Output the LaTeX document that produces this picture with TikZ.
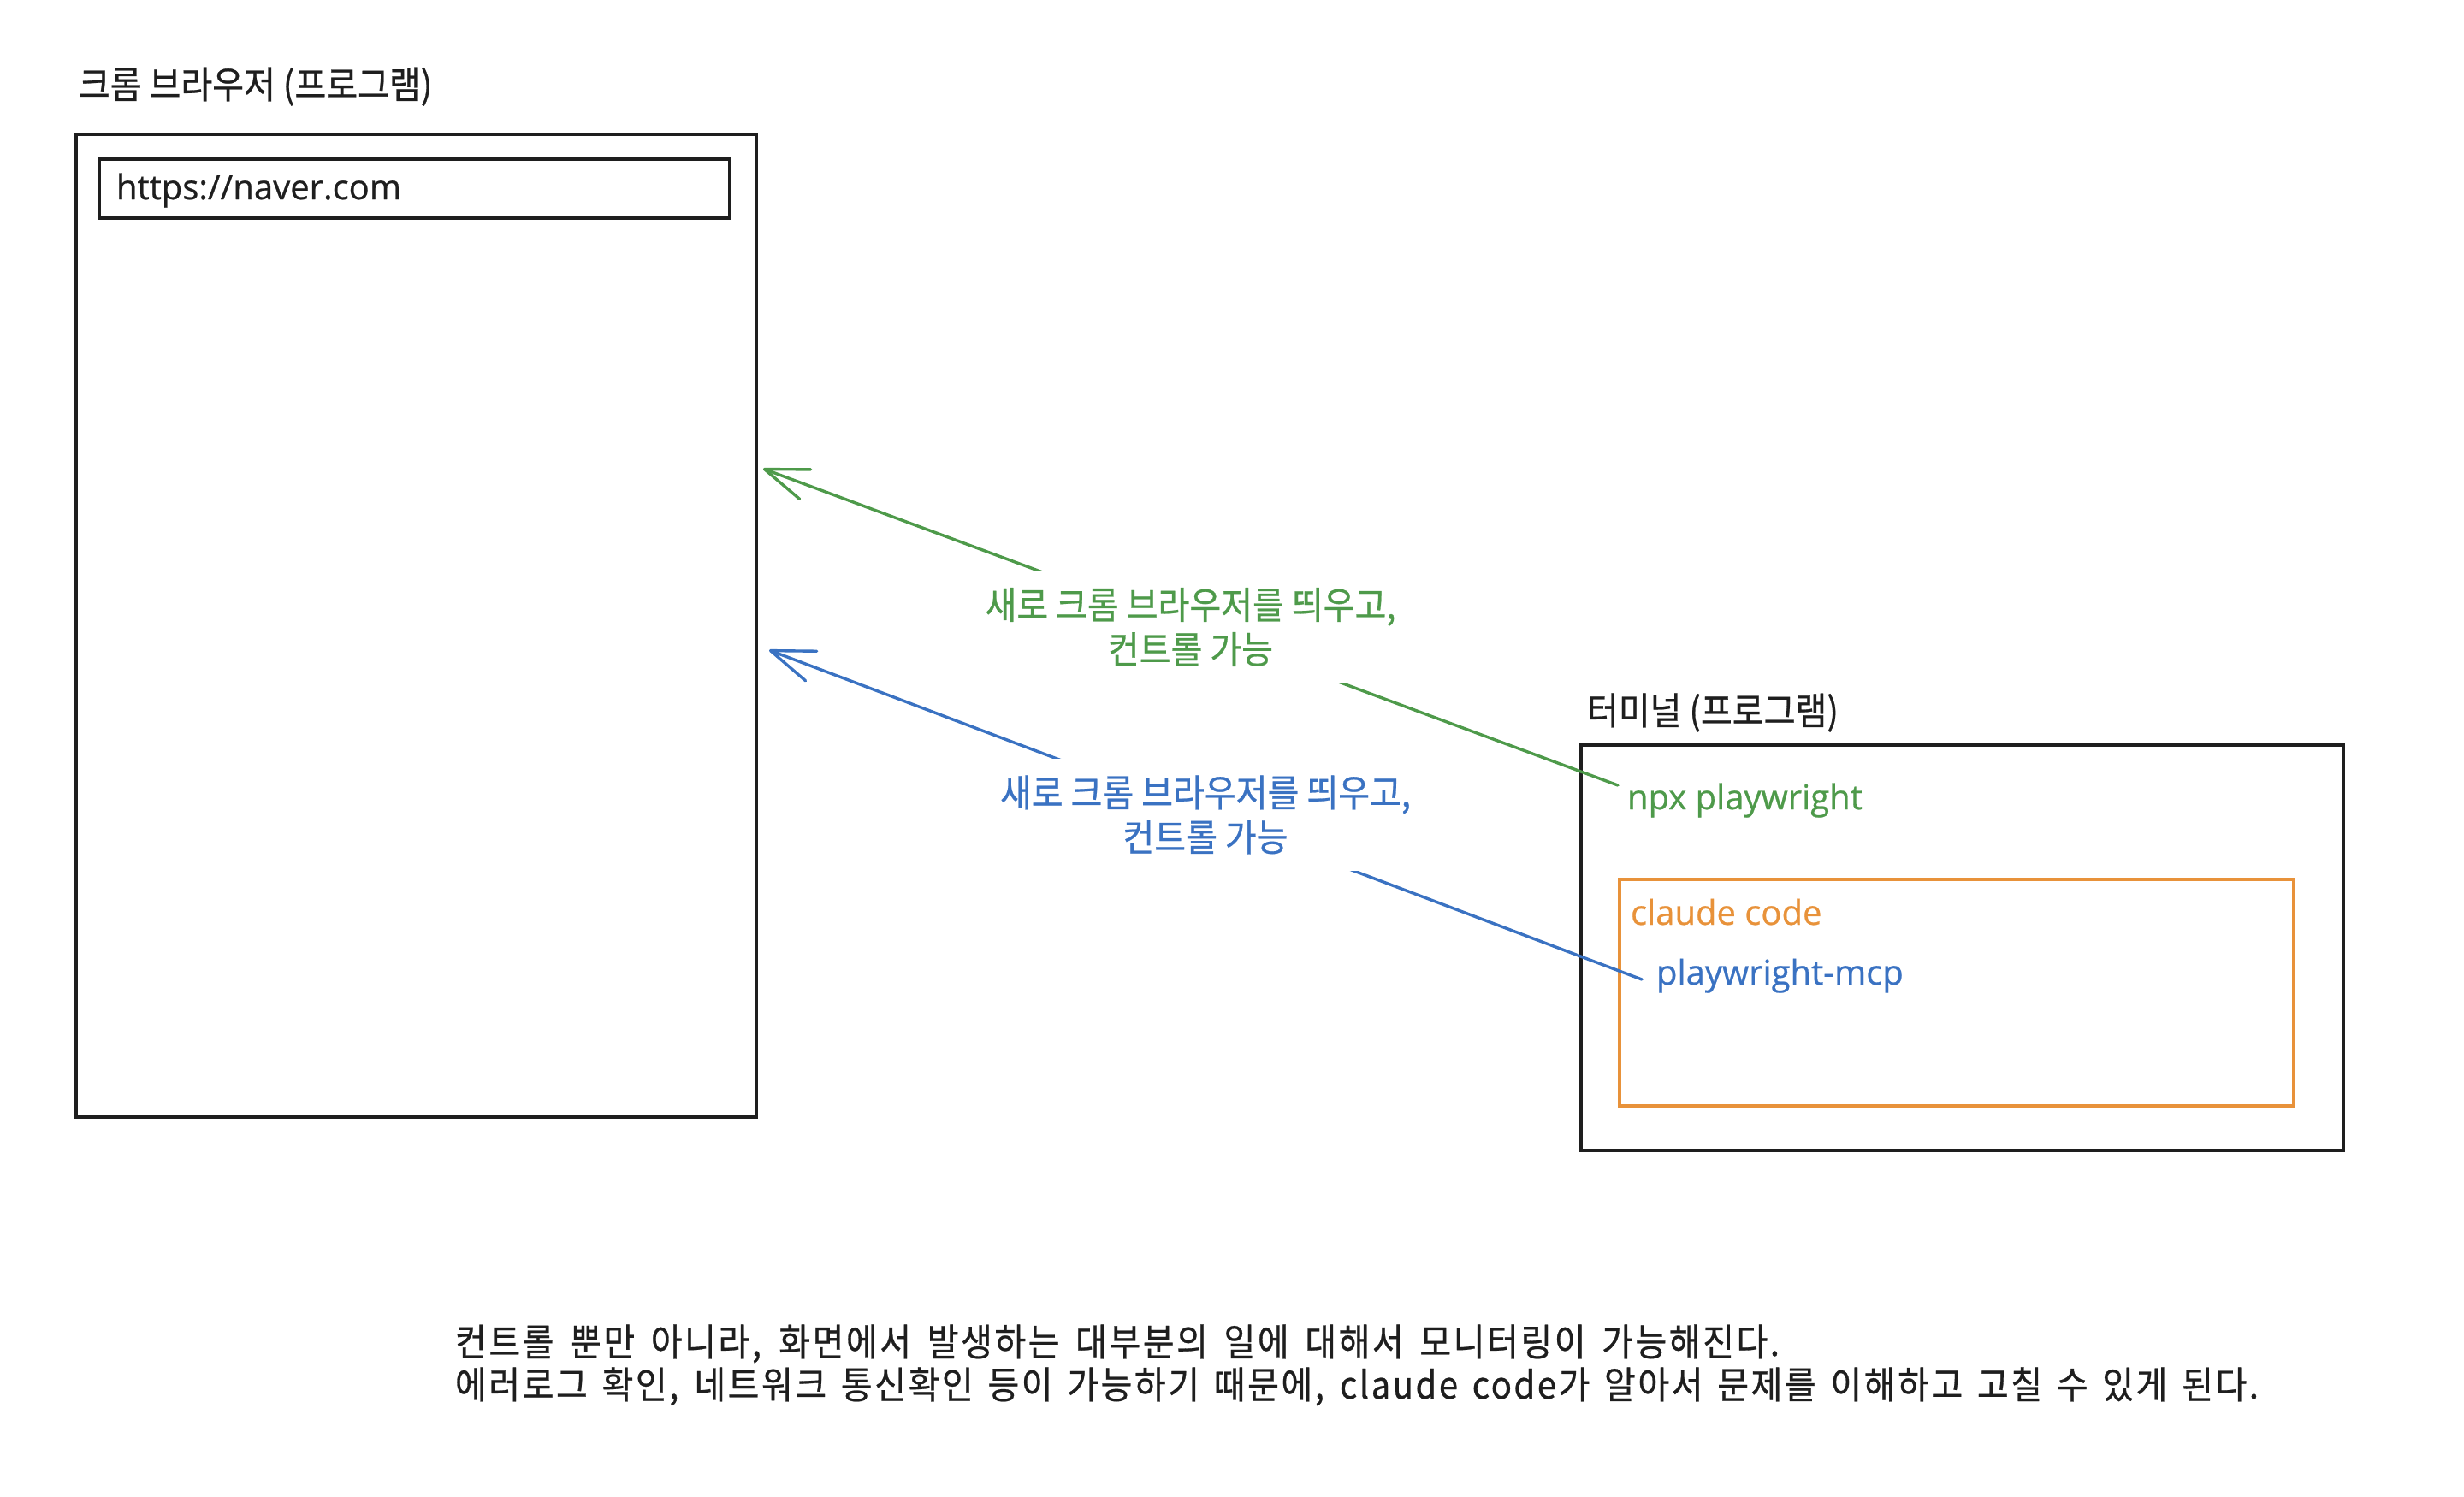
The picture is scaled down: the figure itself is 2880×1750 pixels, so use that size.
\documentclass[tikz,border=0pt]{standalone}
\usepackage{fontspec}
\setmainfont{Noto Sans CJK KR}
\newfontfamily\lat[FakeBold=0.6]{Open Sans}
\newfontfamily\kr[FakeStretch=0.91,FakeBold=0.6]{Noto Sans CJK KR}
\newfontfamily\krB[FakeStretch=0.91,FakeBold=0.6,LetterSpace=5.7]{Noto Sans CJK KR}
\usetikzlibrary{arrows.meta}
\definecolor{ink}{HTML}{1E1E1E}
\definecolor{cgreen}{HTML}{4E9A4A}
\definecolor{cblue}{HTML}{3A72C2}
\definecolor{corange}{HTML}{E8923A}
\begin{document}
\begin{tikzpicture}[x=0.5pt,y=-0.5pt,
  box/.style={draw=ink, line width=2pt, inner sep=0pt, outer sep=0pt, anchor=north west},
  txt/.style={inner sep=0pt, outer sep=0pt, anchor=base west, text=ink, font=\kr\fontsize{22}{26}\selectfont},
  lattxt/.style={txt, font=\lat\fontsize{20}{24}\selectfont},
  conn/.style={line width=1.7pt, line cap=round, -{Straight Barb[angle=40:27pt,round]}},
  lab/.style={fill=white, align=center, inner xsep=0pt, inner ysep=10pt, font=\kr\fontsize{22}{26}\selectfont},
  bottom/.style={txt, font=\krB\fontsize{22}{25}\selectfont}]
\fill[white] (0,0) rectangle (2880,1750);
\useasboundingbox (0,0) rectangle (2880,1750);

% browser
\node[txt] (btitle) at (92,115) {크롬 브라우저 (프로그램)};
\node[box, minimum width=397.5pt, minimum height=574.5pt] (browser) at (89,157) {};
\node[box, minimum width=368.5pt, minimum height=34.5pt] (url) at (116,186) {};
\node[lattxt] (urltext) at (136,233) {https://naver.com};

% terminal
\node[txt] (ttitle) at (1855,847) {터미널 (프로그램)};
\node[box, minimum width=445.5pt, minimum height=237pt] (terminal) at (1848,871) {};
\node[lattxt, text=cgreen] (npx) at (1902,946) {npx playwright};
\node[box, draw=corange, line width=1.7pt, minimum width=394pt, minimum height=132.5pt] (claude) at (1893,1028) {};
\node[lattxt, text=corange] (claudetext) at (1906,1081) {claude code};
\node[lattxt, text=cblue] (mcp) at (1936,1151) {playwright-mcp};

% connectors
\coordinate (gstart) at (1891,918);
\coordinate (gtip) at (892,548);
\coordinate (bstart) at (1919,1145);
\coordinate (btip) at (899,760);
\draw[conn, draw=cgreen] (gstart) -- node[lab, text=cgreen] (glab) {새로 크롬 브라우저를 띄우고,\\컨트롤 가능} (gtip);
\draw[conn, draw=cblue] (bstart) -- node[lab, text=cblue] (blab) {새로 크롬 브라우저를 띄우고,\\컨트롤 가능} (btip);

% bottom note
\node[bottom] (note1) at (532,1585) {\makebox[774pt][s]{컨트롤 뿐만 아니라, 화면에서 발생하는 대부분의 일에 대해서 모니터링이 가능해진다.}};
\node[bottom] (note2) at (532,1635) {\makebox[1054pt][s]{에러로그 확인, 네트워크 통신확인 등이 가능하기 때문에, claude code가 알아서 문제를 이해하고 고칠 수 있게 된다.}};
\end{tikzpicture}
\end{document}
